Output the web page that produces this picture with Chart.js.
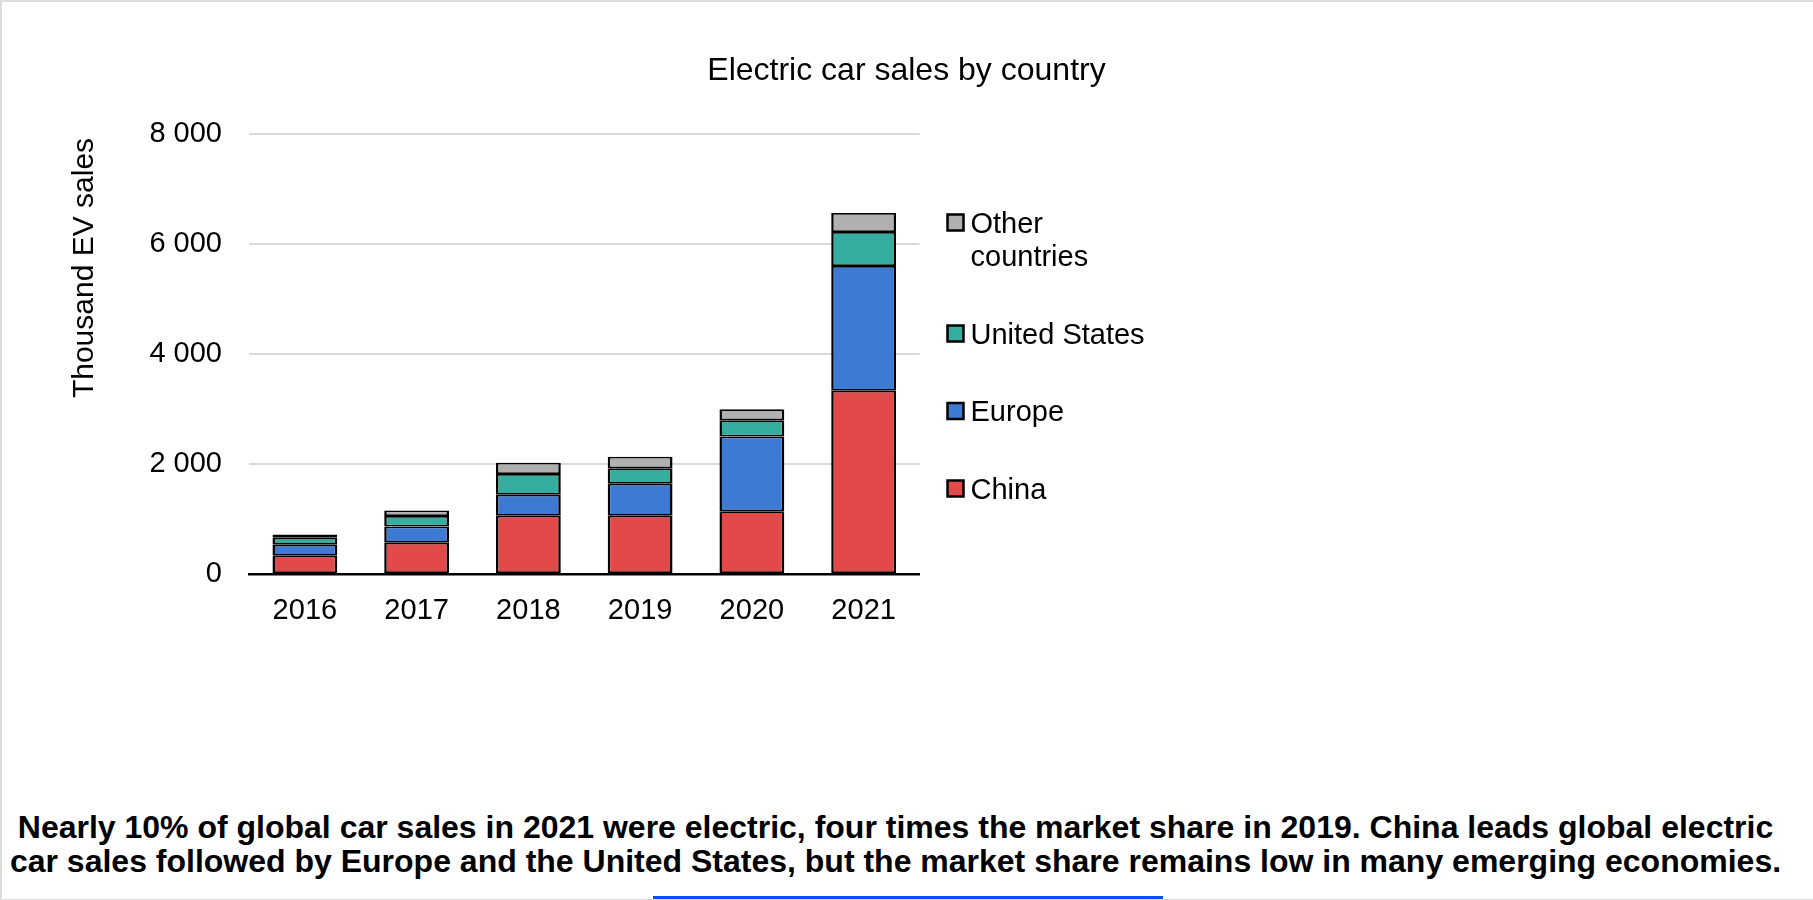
<!DOCTYPE html>
<html>
<head>
<meta charset="utf-8">
<title>Electric car sales by country</title>
<script src="https://cdn.jsdelivr.net/npm/chart.js@4/dist/chart.umd.min.js"></script>
<style>
  html, body { margin: 0; padding: 0; background: #fff; }
  #page {
    position: relative; width: 1813px; height: 900px; box-sizing: border-box;
    border-top: 2px solid #dcdcdc; border-left: 2px solid #dcdcdc; border-bottom: 1px solid #dcdcdc;
    overflow: hidden; font-family: "Liberation Sans", Arial, sans-serif;
  }
  #chart { position: absolute; left: -2px; top: -2px; }
  #caption {
    position: absolute; left: 0; right: 24px; top: 808px; text-align: center;
    font-weight: bold; font-size: 32px; line-height: 34px; color: #000; white-space: nowrap;
  }
  #bar { position: absolute; left: 651px; width: 510px; top: 894px; height: 6px; background: #0a4ff5; }
</style>
</head>
<body>
<div id="page">
  <canvas id="chart" width="1813" height="780"></canvas>
  <div id="caption">Nearly 10% of global car sales in 2021 were electric, four times the market share in 2019. China leads global electric<br>car sales followed by Europe and the United States, but the market share remains low in many emerging economies.</div>
  <div id="bar"></div>
</div>
<script>
// Thousand electric cars sold per year
const years   = ['2016', '2017', '2018', '2019', '2020', '2021'];
const china   = [330, 570, 1060, 1060, 1140, 3330];
const europe  = [200, 295, 380, 580, 1360, 2270];
const us      = [130, 190, 380, 285, 295, 620];
const other   = [60, 100, 205, 205, 200, 345];
const yTicks  = [0, 2000, 4000, 6000, 8000];

const FONT = '"Liberation Sans", Arial, sans-serif';

function series(label, data, color, legendLines) {
  return {
    label, data, backgroundColor: color, legendLines,
    borderColor: '#000',
    borderWidth: { left: 2.5, right: 2.5, top: 1.75, bottom: 1.75 },
    borderSkipped: false,
    barPercentage: 0.58, categoryPercentage: 1.0
  };
}

// Chart title centred over the whole canvas, axis title near the top of the y axis
const titlePlugin = {
  id: 'titles',
  afterDraw(chart) {
    const ctx = chart.ctx;
    ctx.save();
    ctx.fillStyle = '#000';
    ctx.textBaseline = 'middle';
    ctx.font = '32px ' + FONT;
    ctx.textAlign = 'center';
    ctx.fillText('Electric car sales by country', chart.width / 2, 71);
    ctx.font = '30px ' + FONT;
    ctx.translate(85, 268);
    ctx.rotate(-Math.PI / 2);
    ctx.fillText('Thousand EV sales', 0, 0);
    ctx.restore();
  }
};

// Legend to the right of the plot, top series first, long names wrapped
const sideLegend = {
  id: 'sideLegend',
  afterDraw(chart) {
    const ctx = chart.ctx;
    const x = chart.chartArea.right + 28;
    let y = 224.5;
    const lineH = 33.5;
    ctx.save();
    ctx.font = '29px ' + FONT;
    ctx.textBaseline = 'middle';
    ctx.textAlign = 'left';
    const sets = chart.data.datasets.slice().reverse();
    sets.forEach(ds => {
      ctx.fillStyle = ds.backgroundColor;
      ctx.fillRect(x, y - 10, 16, 16);
      ctx.lineWidth = 2.5;
      ctx.strokeStyle = '#000';
      ctx.strokeRect(x, y - 10, 16, 16);
      ctx.fillStyle = '#000';
      ds.legendLines.forEach((t, i) => ctx.fillText(t, x + 23, y + i * lineH));
      y += ds.legendLines.length * lineH + 44;
    });
    ctx.restore();
  }
};

new Chart(document.getElementById('chart'), {
  type: 'bar',
  data: {
    labels: years,
    datasets: [
      series('China', china, '#e24a4a', ['China']),
      series('Europe', europe, '#3d7ad4', ['Europe']),
      series('United States', us, '#36ae9f', ['United States']),
      series('Other countries', other, '#b0b0b0', ['Other', 'countries'])
    ]
  },
  options: {
    responsive: false,
    animation: false,
    layout: { padding: { left: 60, right: 893.5, top: 134, bottom: 146 } },
    plugins: {
      legend: { display: false },
      title: { display: false },
      tooltip: { enabled: false }
    },
    scales: {
      x: {
        stacked: true,
        grid: { display: false, drawTicks: false },
        border: { display: true, color: '#000', width: 2.5 },
        ticks: { color: '#000', font: { family: FONT, size: 29 }, padding: 20 },
        afterFit(scale) { scale.height = 60; }
      },
      y: {
        stacked: true,
        min: 0, max: 8000,
        afterBuildTicks(scale) { scale.ticks = yTicks.map(v => ({ value: v })); },
        grid: {
          drawTicks: false,
          lineWidth: 2,
          color: ctx => ctx.tick && ctx.tick.value === 0 ? 'rgba(0,0,0,0)' : '#d9d9d9'
        },
        border: { display: false },
        ticks: {
          color: '#000', padding: 27,
          font: { family: FONT, size: 29 },
          callback: v => v === 0 ? '0' : String(v).replace(/\B(?=(\d{3})+(?!\d))/g, ' ')
        },
        afterFit(scale) { scale.width = 189; }
      }
    }
  },
  plugins: [titlePlugin, sideLegend]
});
</script>
</body>
</html>
